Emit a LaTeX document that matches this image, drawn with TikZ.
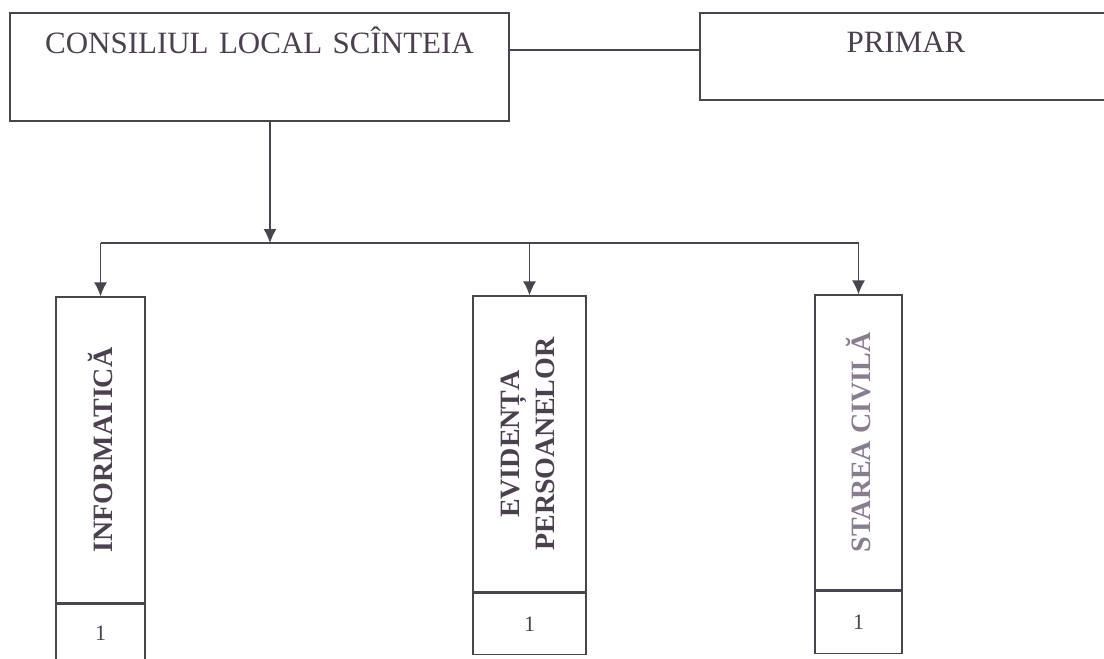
\documentclass[tikz,border=0pt]{standalone}
\usepackage{fontspec}
\setmainfont{Liberation Serif}
\usepackage{graphicx}
\usetikzlibrary{arrows.meta}
\usetikzlibrary{positioning}
\definecolor{ink}{HTML}{4A4450}
\definecolor{textink}{HTML}{4B3F50}
\definecolor{paleink}{HTML}{8A7C90}
\tikzstyle{box} = [draw=ink, line width=1.3pt, rectangle, inner sep=0pt,
align=center, text=textink]
\tikzstyle{line} = [draw=ink, line width=1.3pt]
\tikzstyle{arrow} = [draw=ink, line width=1.3pt, -{Latex[length=14pt,width=13pt]}]

\begin{document}
\begin{tikzpicture}[x=1pt, y=-1pt,
	head/.style={box, font=\fontsize{31}{37}\selectfont},
	unit/.style={box, font=\fontsize{28}{35}\selectfont\bfseries},
	cell/.style={box, font=\fontsize{22}{26}\selectfont}]
	\useasboundingbox (0,0) rectangle (1104,659);
	\node [head, text width=499pt, text height=40pt, text depth=68pt] (CL) at (259.5,67) {CONSILIUL LOCAL SCÎNTEIA};
	\node [head, text width=412pt, text height=39pt, text depth=48pt] (PR) at (906,56.5) {PRIMAR};
	\node [unit, minimum width=89pt, minimum height=306pt] (INF) at (100.5,450) {\rotatebox{90}{INFORMATICĂ}};
	\node [unit, minimum width=113pt, minimum height=296pt] (EP) at (529.5,444) {\rotatebox{90}{\begin{tabular}{@{}c@{}}EVIDENȚA\\PERSOANELOR\end{tabular}}};
	\node [unit, minimum width=87pt, minimum height=295pt, text=paleink] (SC) at (858.5,442.5) {\rotatebox{90}{STAREA CIVILĂ}};
	\node [cell, below=0pt of INF, minimum width=89pt, minimum height=57pt] (INF1) {1};
	\node [cell, below=0pt of EP, minimum width=113pt, minimum height=61pt] (EP1) {1};
	\node [cell, below=0pt of SC, minimum width=87pt, minimum height=62pt] (SC1) {1};
	\coordinate (split) at (270,243);
	%% Links
	\path [line] ([yshift=17pt]CL.east) -- ([yshift=17pt]CL.east -| PR.west);
	\path [arrow] (CL.south -| split) -- (split);
	\path [line] (INF.north |- split) -- (SC.north |- split);
	\foreach \u in {INF,EP,SC}
		\path [arrow] (\u.north |- split) -- (\u.north);
\end{tikzpicture}
\end{document}
